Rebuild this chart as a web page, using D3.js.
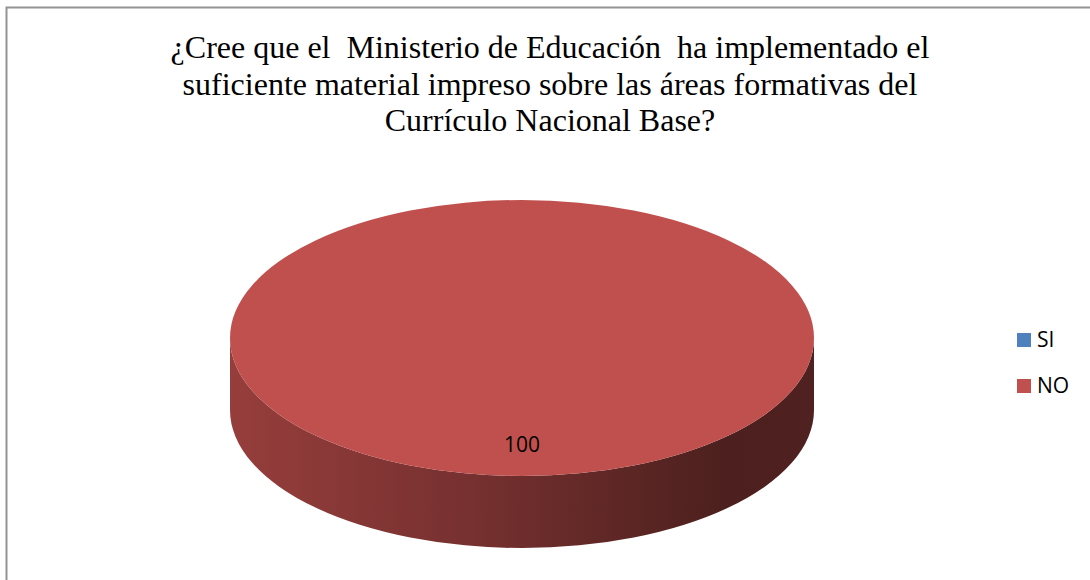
<!DOCTYPE html>
<html>
<head>
  <meta charset="utf-8">
  <title>Ministerio de Educación - material impreso</title>
  <script src="https://cdn.jsdelivr.net/npm/d3@7"></script>
  <style>
    body { margin: 0; background: #fff; }
    svg { display: block; }
  </style>
</head>
<body>
  <div id="chart"></div>
  <script>
    // data
    var categories = ['SI', 'NO'];
    var values = [0, 100];
    var colors = ['#4F81BD', '#C0504D'];
    var titleLines = [
      '¿Cree que el  Ministerio de Educación  ha implementado el',
      'suficiente material impreso sobre las áreas formativas del',
      'Currículo Nacional Base?'
    ];

    var width = 1090, height = 580;
    var cx = 522, cy = 338, rx = 292, ry = 138, depth = 72;

    var svg = d3.select('#chart').append('svg')
      .attr('width', width)
      .attr('height', height);

    // chart border
    svg.append('rect')
      .attr('x', 6.5).attr('y', 7.5)
      .attr('width', width + 20).attr('height', height + 20)
      .style('fill', '#fff')
      .style('stroke', '#939393')
      .style('stroke-width', 2);

    // title
    svg.append('text')
      .attr('x', 550)
      .attr('y', 58)
      .attr('text-anchor', 'middle')
      .style('font-family', '"Liberation Serif", "Times New Roman", serif')
      .style('font-size', '32px')
      .style('white-space', 'pre')
      .style('fill', '#000')
      .selectAll('tspan')
      .data(titleLines)
      .enter().append('tspan')
      .attr('x', 550)
      .attr('dy', function (d, i) { return i === 0 ? 0 : 36.5; })
      .text(function (d) { return d; });

    var pieData = d3.pie().sort(null).value(function (d) { return d.value; })(
      categories.map(function (c, i) { return { name: c, value: values[i], color: colors[i] }; })
    );

    // side gradient (lit from the left)
    var defs = svg.append('defs');
    pieData.forEach(function (d, i) {
      var base = d3.color(d.data.color);
      var g = defs.append('linearGradient')
        .attr('id', 'side-' + i)
        .attr('gradientUnits', 'userSpaceOnUse')
        .attr('x1', cx - rx).attr('x2', cx + rx)
        .attr('y1', 0).attr('y2', 0);
      g.append('stop').attr('offset', '0%').attr('stop-color', base.darker(0.7));
      g.append('stop').attr('offset', '40%').attr('stop-color', base.darker(1.35));
      g.append('stop').attr('offset', '85%').attr('stop-color', base.darker(2.6));
      g.append('stop').attr('offset', '100%').attr('stop-color', base.darker(2.5));
    });

    function pt(a, dy) {
      return [cx + rx * Math.sin(a), cy - ry * Math.cos(a) + (dy || 0)];
    }

    // side walls, only the front half (pi/2 .. 3pi/2) shows
    function sidePath(d) {
      var a0 = Math.max(d.startAngle, Math.PI / 2);
      var a1 = Math.min(d.endAngle, 3 * Math.PI / 2);
      if (a1 <= a0) return null;
      var p0 = pt(a0), p1 = pt(a1);
      var large = (a1 - a0) > Math.PI ? 1 : 0;
      return 'M' + p0 + 'A' + rx + ',' + ry + ' 0 ' + large + ' 1 ' + p1 +
        'L' + pt(a1, depth) + 'A' + rx + ',' + ry + ' 0 ' + large + ' 0 ' + pt(a0, depth) + 'Z';
    }

    var visible = pieData.filter(function (d) { return d.value > 0; });

    svg.append('g').attr('class', 'sides')
      .selectAll('path')
      .data(visible)
      .enter().append('path')
      .attr('d', sidePath)
      .style('fill', function (d) { return 'url(#side-' + d.index + ')'; });

    // top faces, drawn as a circle squashed to an ellipse
    var arc = d3.arc().innerRadius(0).outerRadius(rx);
    svg.append('g').attr('class', 'tops')
      .attr('transform', 'translate(' + cx + ',' + cy + ') scale(1,' + (ry / rx) + ')')
      .selectAll('path')
      .data(visible)
      .enter().append('path')
      .attr('d', arc)
      .style('fill', function (d) { return d.data.color; });

    // data labels
    var labelArc = d3.arc().innerRadius(rx * 0.77).outerRadius(rx * 0.77);
    svg.append('g').attr('class', 'labels')
      .selectAll('text')
      .data(visible)
      .enter().append('text')
      .attr('x', function (d) { return cx + labelArc.centroid(d)[0]; })
      .attr('y', function (d) { return cy + labelArc.centroid(d)[1] * ry / rx; })
      .attr('dy', '0.35em')
      .attr('text-anchor', 'middle')
      .style('font-family', '"Open Sans", "Liberation Sans", sans-serif')
      .style('font-size', '21px')
      .style('fill', '#000')
      .text(function (d) { return d.value; });

    // legend
    var legend = svg.append('g').attr('class', 'legend')
      .selectAll('g')
      .data(categories)
      .enter().append('g')
      .attr('transform', function (d, i) { return 'translate(1017,' + (333 + i * 46) + ')'; });
    legend.append('rect')
      .attr('width', 14).attr('height', 14)
      .style('fill', function (d, i) { return colors[i]; });
    legend.append('text')
      .attr('x', 20).attr('y', 7).attr('dy', '0.35em')
      .style('font-family', '"Open Sans", "Liberation Sans", sans-serif')
      .style('font-size', '21px')
      .style('fill', '#000')
      .text(function (d) { return d; });
  </script>
</body>
</html>
